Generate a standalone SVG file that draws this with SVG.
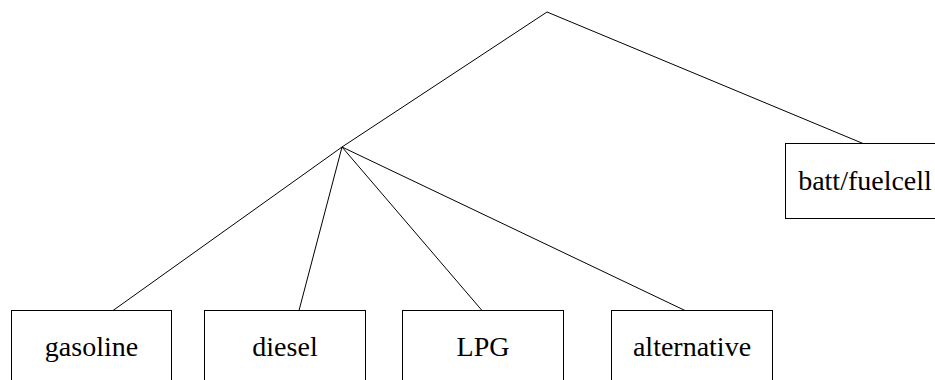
<svg xmlns="http://www.w3.org/2000/svg" width="935" height="380" viewBox="0 0 935 380">
<style>
.box{fill:#fff;stroke:#000;stroke-width:1}
.lbl{font-size:28px;fill:#000;text-anchor:middle}
.edge{stroke:#000;stroke-width:1;fill:none}
</style>
<rect width="935" height="380" fill="#fff"/>
<g id="connectors">
<line class="edge" x1="547" y1="12" x2="342" y2="147"/>
<line class="edge" x1="547" y1="12" x2="863" y2="143.5"/>
<line class="edge" x1="342" y1="147" x2="113" y2="310.5"/>
<line class="edge" x1="342" y1="147" x2="299" y2="310.5"/>
<line class="edge" x1="342" y1="147" x2="482" y2="310.5"/>
<line class="edge" x1="342" y1="147" x2="685" y2="310.5"/>
</g>
<g id="gasoline"><rect class="box" x="11.5" y="310.5" width="160" height="90"/><text class="lbl" font-family="Liberation Serif, serif" x="91.5" y="356">gasoline</text></g>
<g id="diesel"><rect class="box" x="204.5" y="310.5" width="161" height="90"/><text class="lbl" font-family="Liberation Serif, serif" x="285" y="356">diesel</text></g>
<g id="lpg"><rect class="box" x="402.5" y="310.5" width="161" height="90"/><text class="lbl" font-family="Liberation Serif, serif" x="483" y="356">LPG</text></g>
<g id="alternative"><rect class="box" x="611.5" y="310.5" width="161" height="90"/><text class="lbl" font-family="Liberation Serif, serif" x="692" y="356">alternative</text></g>
<g id="batt"><rect class="box" x="785.5" y="143.5" width="160" height="75"/><text class="lbl" font-family="Liberation Serif, serif" x="865" y="190">batt/fuelcell</text></g>
</svg>
